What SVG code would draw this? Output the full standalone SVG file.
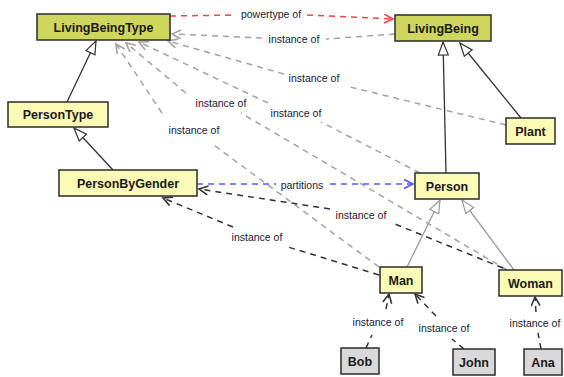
<svg xmlns="http://www.w3.org/2000/svg" width="564" height="377" viewBox="0 0 564 377">
<style>
.bg{fill:#ffffff}
.box rect{stroke:#2b2b2b;stroke-width:1.5}
.top rect{fill:#cfd65e}
.cls rect{fill:#fbfbb6}
.obj rect{fill:#d9d9d9}
.box text{font-family:"Liberation Sans",Arial,sans-serif;font-size:12.5px;font-weight:bold;fill:#1a1a1a;text-anchor:middle}
.lbl{font-family:"Liberation Sans",Arial,sans-serif;font-size:10.5px;fill:#1a1a33;text-anchor:middle}
.e{fill:none;stroke-width:1.5;stroke-dasharray:6,5}
.gray{stroke:#a3a3a3;marker-end:url(#vGray)}
.blk{stroke:#333333;marker-end:url(#vBlk)}
.red{stroke:#f04545;marker-end:url(#vRed)}
.blue{stroke:#5a5aff;marker-end:url(#vBlue)}
.gen{fill:none;stroke:#333333;stroke-width:1.3;marker-end:url(#triD)}
.genL{fill:none;stroke:#9a9a9a;stroke-width:1.3;marker-end:url(#triL)}
</style>
<defs>
<marker id="vGray" markerUnits="userSpaceOnUse" markerWidth="12" markerHeight="12" viewBox="0 0 12 12" refX="10" refY="5" orient="auto"><path d="M1,0.5 L10,5 L1,9.5" fill="none" stroke="#a3a3a3" stroke-width="1.6"/></marker>
<marker id="vBlk" markerUnits="userSpaceOnUse" markerWidth="12" markerHeight="12" viewBox="0 0 12 12" refX="10" refY="5" orient="auto"><path d="M1,0.5 L10,5 L1,9.5" fill="none" stroke="#333333" stroke-width="1.6"/></marker>
<marker id="vRed" markerUnits="userSpaceOnUse" markerWidth="12" markerHeight="12" viewBox="0 0 12 12" refX="10" refY="5" orient="auto"><path d="M1,0.5 L10,5 L1,9.5" fill="none" stroke="#f04545" stroke-width="1.6"/></marker>
<marker id="vBlue" markerUnits="userSpaceOnUse" markerWidth="12" markerHeight="12" viewBox="0 0 12 12" refX="10" refY="5" orient="auto"><path d="M1,0.5 L10,5 L1,9.5" fill="none" stroke="#5a5aff" stroke-width="1.6"/></marker>
<marker id="triD" markerUnits="userSpaceOnUse" markerWidth="16" markerHeight="14" viewBox="0 0 16 14" refX="14" refY="6" orient="auto"><path d="M1,1 L14,6 L1,11 Z" fill="#ffffff" stroke="#333333" stroke-width="1.2"/></marker>
<marker id="triL" markerUnits="userSpaceOnUse" markerWidth="16" markerHeight="14" viewBox="0 0 16 14" refX="14" refY="6" orient="auto"><path d="M1,1 L14,6 L1,11 Z" fill="#ffffff" stroke="#9a9a9a" stroke-width="1.2"/></marker>
</defs>
<rect class="bg" x="0" y="0" width="564" height="377"/>
<g id="connectors">
<path class="gen" d="M67,102 L96,41"/>
<path class="gen" d="M113,170 L74,128"/>
<path class="gen" d="M446,173 L443,42"/>
<path class="gen" d="M521,118 L460,43"/>
<path class="genL" d="M407,267 L440,200"/>
<path class="genL" d="M514,270 L462,200"/>
<path class="e red" d="M170,16 L234,15 M307,15 L393,19"/>
<path class="e gray" d="M395,34 L326,39 M262,38 L172,34"/>
<path class="e gray" d="M506,125 L346,86 M284,74 L168,41"/>
<path class="e gray" d="M420,173 L321,122 M268,103 L139,42"/>
<path class="e gray" d="M507,270 L241,113 M186,93 L126,43"/>
<path class="e gray" d="M379,267 L211,143 M162,113 L116,44"/>
<path class="e blue" d="M197,184 L276,184 M330,184 L413,184"/>
<path class="e blk" d="M503,268 L395,224 M330,209 L199,189"/>
<path class="e blk" d="M379,275 L288,247 M233,227 L163,198"/>
<path class="e blk" d="M366,348 L372,335 M386,309 L389,294"/>
<path class="e blk" d="M464,349 L452,339 M436,316 L415,294"/>
<path class="e blk" d="M541,349 L538,333 M536,312 L535,297"/>
<text class="lbl" x="271" y="18">powertype of</text>
<text class="lbl" x="294" y="43">instance of</text>
<text class="lbl" x="314" y="82">instance of</text>
<text class="lbl" x="296" y="117">instance of</text>
<text class="lbl" x="221" y="107">instance of</text>
<text class="lbl" x="194" y="134">instance of</text>
<text class="lbl" x="302" y="189">partitions</text>
<text class="lbl" x="361" y="219">instance of</text>
<text class="lbl" x="257" y="241">instance of</text>
<text class="lbl" x="378" y="326">instance of</text>
<text class="lbl" x="444" y="332">instance of</text>
<text class="lbl" x="535" y="327">instance of</text>
</g>
<g id="LivingBeingType" class="box top"><rect x="37" y="14" width="133" height="26"/><text x="103.5" y="31.5">LivingBeingType</text></g>
<g id="LivingBeing" class="box top"><rect x="395" y="15" width="96" height="26"/><text x="443" y="32.5">LivingBeing</text></g>
<g id="PersonType" class="box cls"><rect x="8" y="102" width="100" height="25"/><text x="58" y="119">PersonType</text></g>
<g id="PersonByGender" class="box cls"><rect x="59" y="170" width="138" height="26"/><text x="128" y="187.5">PersonByGender</text></g>
<g id="Plant" class="box cls"><rect x="506" y="118" width="49" height="26"/><text x="530.5" y="135.5">Plant</text></g>
<g id="Person" class="box cls"><rect x="415" y="173" width="64" height="26"/><text x="447" y="190.5">Person</text></g>
<g id="Man" class="box cls"><rect x="380" y="267" width="42" height="26"/><text x="401" y="284.5">Man</text></g>
<g id="Woman" class="box cls"><rect x="499" y="270" width="63" height="26"/><text x="530.5" y="287.5">Woman</text></g>
<g id="Bob" class="box obj"><rect x="341" y="348" width="38" height="26"/><text x="360" y="365.5">Bob</text></g>
<g id="John" class="box obj"><rect x="453" y="349" width="42" height="26"/><text x="474" y="366.5">John</text></g>
<g id="Ana" class="box obj"><rect x="524" y="349" width="38" height="26"/><text x="543" y="366.5">Ana</text></g>
</svg>
